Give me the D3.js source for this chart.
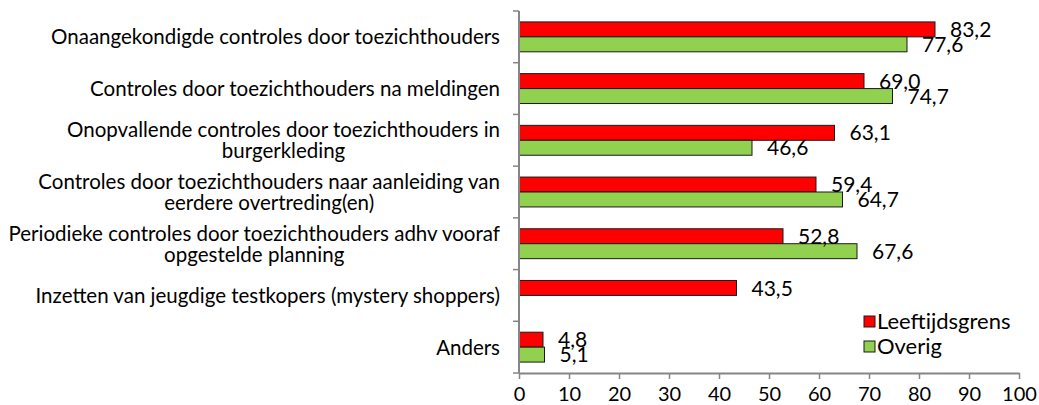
<!DOCTYPE html>
<html>
<head>
<meta charset="utf-8">
<script src="https://cdn.jsdelivr.net/npm/d3@7"></script>
<style>
  body { margin: 0; background: #fff; }
  text { font-family: Lato, "DejaVu Sans", sans-serif; fill: #000; }
</style>
</head>
<body>
<script>
// values
var categories = [
    "Onaangekondigde controles door toezichthouders",
    "Controles door toezichthouders na meldingen",
    "Onopvallende controles door toezichthouders in\nburgerkleding",
    "Controles door toezichthouders naar aanleiding van\neerdere overtreding(en)",
    "Periodieke controles door toezichthouders adhv vooraf\nopgestelde planning",
    "Inzetten van jeugdige testkopers (mystery shoppers)",
    "Anders"
];
var seriesNames = ["Leeftijdsgrens", "Overig"];
var leeftijdsgrens = [83.2, 69.0, 63.1, 59.4, 52.8, 43.5, 4.8];
var overig = [77.6, 74.7, 46.6, 64.7, 67.6, null, 5.1];
var xTicks = [0, 10, 20, 30, 40, 50, 60, 70, 80, 90, 100];
var colors = ["#ff0000", "#92d050"];

var width = 1039, height = 405;
var margin = {left: 519, right: 20, top: 11, bottom: 32};

var svg = d3.select("body").append("svg")
    .attr("width", width).attr("height", height);

var x = d3.scaleLinear().domain([0, 100]).range([margin.left, width - margin.right]);
var y = d3.scaleBand().domain(categories).range([margin.top, height - margin.bottom]);
var inner = d3.scaleBand().domain(seriesNames).range([0, y.bandwidth()]).paddingInner(0).paddingOuter(0.73);

var rows = categories.map(function(c, i) {
    return {cat: c, vals: [leeftijdsgrens[i], overig[i]]};
});

// bars + value labels
var groups = svg.selectAll("g.row").data(rows).enter().append("g")
    .attr("class", "row")
    .attr("transform", function(d) { return "translate(0," + y(d.cat) + ")"; });

groups.each(function(d) {
    var g = d3.select(this);
    d.vals.forEach(function(v, k) {
        if (v == null) return;
        g.append("rect")
            .attr("x", x(0))
            .attr("y", inner(seriesNames[k]))
            .attr("width", x(v) - x(0))
            .attr("height", inner.bandwidth())
            .attr("fill", colors[k])
            .attr("stroke", "#1a1a1a")
            .attr("stroke-width", 1);
    });
});
groups.each(function(d) {
    var g = d3.select(this);
    d.vals.forEach(function(v, k) {
        if (v == null) return;
        g.append("text")
            .attr("x", x(v) + 15)
            .attr("y", inner(seriesNames[k]) + inner.bandwidth() / 2)
            .attr("dy", "0.36em")
            .style("font-size", "21px")
            .text(d3.format(".1f")(v).replace(".", ","));
    });
});

// y axis
var yAxis = svg.append("g")
    .attr("transform", "translate(" + x(0) + ",0)");
yAxis.append("line")
    .attr("x1", 0).attr("x2", 0)
    .attr("y1", margin.top).attr("y2", height - margin.bottom)
    .attr("stroke", "#868686").attr("stroke-width", 2);
var yTickPos = categories.map(function(c) { return y(c); }).concat([height - margin.bottom]);
yAxis.selectAll("line.tick").data(yTickPos).enter().append("line")
    .attr("class", "tick")
    .attr("x1", -6).attr("x2", 0)
    .attr("y1", function(d) { return d; }).attr("y2", function(d) { return d; })
    .attr("stroke", "#868686").attr("stroke-width", 1.5);

// category labels: right-aligned block, lines centred within it
var labelRight = 500, lineH = 21;
categories.forEach(function(c) {
    var lines = c.split("\n");
    var cy = y(c) + y.bandwidth() / 2;
    var txts = lines.map(function(l, i) {
        return svg.append("text")
            .attr("y", cy + (i - (lines.length - 1) / 2) * lineH)
            .attr("dy", "0.36em")
            .style("font-size", "20.5px")
            .text(l);
    });
    var maxW = d3.max(txts, function(t) { return t.node().getComputedTextLength(); });
    txts.forEach(function(t) {
        t.attr("x", labelRight - maxW / 2).attr("text-anchor", "middle");
    });
});

// x axis
var xAxis = svg.append("g")
    .attr("transform", "translate(0," + (height - margin.bottom) + ")")
    .call(d3.axisBottom(x).tickValues(xTicks).tickSize(6).tickSizeOuter(0).tickFormat(d3.format("d")));
xAxis.select(".domain").attr("stroke", "#868686").attr("stroke-width", 2);
xAxis.selectAll(".tick line").attr("stroke", "#868686").attr("stroke-width", 1.5);
xAxis.selectAll(".tick text")
    .attr("y", 14)
    .style("font-size", "20px")
    .style("font-family", "Lato, sans-serif")
    .attr("fill", "#000");

// legend
var legend = svg.append("g").attr("transform", "translate(864,316)");
seriesNames.forEach(function(s, i) {
    legend.append("rect")
        .attr("x", 0).attr("y", i * 25)
        .attr("width", 11).attr("height", 11)
        .attr("fill", colors[i])
        .attr("stroke", "#1a1a1a").attr("stroke-width", 1);
    legend.append("text")
        .attr("x", 13).attr("y", i * 25 + 5.5)
        .attr("dy", "0.36em")
        .style("font-size", "22px")
        .text(s);
});
</script>
</body>
</html>
